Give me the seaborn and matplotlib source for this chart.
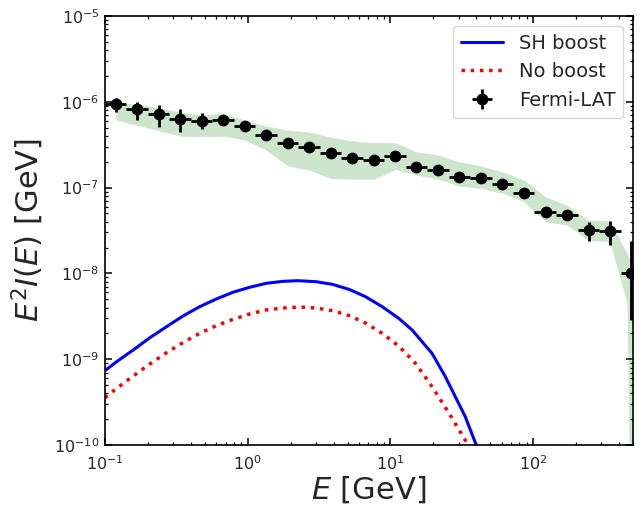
import numpy as np
import pandas as pd
import matplotlib
matplotlib.use("Agg")
import matplotlib.pyplot as plt
import seaborn as sns

# ---- Fermi-LAT data (bin centres, bin edges, values, errors) ----
E_data = [0.119, 0.168, 0.238, 0.336, 0.476, 0.673, 0.951, 1.35, 1.90, 2.69,
          3.81, 5.38, 7.61, 10.8, 15.2, 21.5, 30.4, 43.1, 60.9, 86.1,
          122.0, 172.0, 244.0, 344.0, 487.0]
E_lo = [0.1, 0.141, 0.2, 0.283, 0.4, 0.566, 0.8, 1.13, 1.6, 2.26,
        3.2, 4.53, 6.4, 9.05, 12.8, 18.1, 25.6, 36.2, 51.2, 72.4,
        102.0, 145.0, 205.0, 290.0, 410.0]
E_hi = [0.141, 0.2, 0.283, 0.4, 0.566, 0.8, 1.13, 1.6, 2.26, 3.2,
        4.53, 6.4, 9.05, 12.8, 18.1, 25.6, 36.2, 51.2, 72.4, 102.0,
        145.0, 205.0, 290.0, 410.0, 579.0]
flux = [9.35e-7, 8.18e-7, 7.15e-7, 6.3e-7, 6.02e-7, 6.18e-7, 5.22e-7, 4.10e-7,
        3.28e-7, 3.0e-7, 2.51e-7, 2.19e-7, 2.10e-7, 2.33e-7, 1.75e-7, 1.60e-7,
        1.32e-7, 1.28e-7, 1.09e-7, 8.72e-8, 5.24e-8, 4.80e-8, 3.21e-8, 3.12e-8,
        1.0e-8]
flux_err_hi = [1.7e-7, 1.8e-7, 2.0e-7, 1.9e-7, 1.45e-7, 0.8e-7, 3.0e-8, 2.5e-8,
               2.0e-8, 1.8e-8, 1.5e-8, 1.3e-8, 1.3e-8, 1.5e-8, 1.1e-8, 1.0e-8,
               8.0e-9, 8.0e-9, 7.0e-9, 6.0e-9, 6.0e-9, 6.0e-9, 8.0e-9, 1.0e-8,
               1.4e-8]
flux_err_lo = [1.75e-7, 2.0e-7, 2.0e-7, 1.8e-7, 1.2e-7, 0.7e-7, 3.0e-8, 2.5e-8,
               2.0e-8, 1.8e-8, 1.5e-8, 1.3e-8, 1.3e-8, 1.5e-8, 1.1e-8, 1.0e-8,
               8.0e-9, 8.0e-9, 7.0e-9, 6.0e-9, 6.0e-9, 6.0e-9, 8.0e-9, 1.0e-8,
               7.1e-9]

# ---- systematic band ----
band_E = [0.119, 0.168, 0.238, 0.336, 0.476, 0.673, 0.951, 1.35, 1.90, 2.69,
          3.81, 5.38, 7.61, 10.8, 15.2, 21.5, 30.4, 43.1, 60.9, 86.1,
          122.0, 172.0, 244.0, 344.0, 455.0, 487.0]
band_hi = [9.68e-7, 9.43e-7, 8.47e-7, 7.60e-7, 7.02e-7, 7.34e-7, 6.14e-7, 5.22e-7,
           4.69e-7, 4.45e-7, 3.89e-7, 3.49e-7, 3.35e-7, 3.34e-7, 2.62e-7, 2.40e-7,
           2.00e-7, 1.79e-7, 1.53e-7, 1.23e-7, 7.83e-8, 6.27e-8, 4.19e-8, 4.11e-8,
           1.7e-8, 1.3e-8]
band_lo = [6.14e-7, 5.32e-7, 4.60e-7, 3.99e-7, 3.92e-7, 3.99e-7, 3.59e-7, 2.74e-7,
           1.79e-7, 1.60e-7, 1.28e-7, 1.25e-7, 1.25e-7, 1.63e-7, 1.40e-7, 1.26e-7,
           1.04e-7, 9.81e-8, 8.58e-8, 6.85e-8, 4.00e-8, 3.66e-8, 2.45e-8, 2.34e-8,
           4.5e-9, 1.0e-12]

# ---- model curves ----
E_sh = [0.100, 0.1206, 0.1576, 0.2061, 0.2694, 0.3521, 0.4601, 0.6015, 0.7862,
        1.028, 1.344, 1.756, 2.234, 3.000, 3.921, 5.125, 6.699, 8.758, 11.44,
        14.18, 19.55, 24.23, 33.41, 39.87, 50.0]
F_sh = [7.35e-10, 9.36e-10, 1.28e-9, 1.78e-9, 2.39e-9, 3.19e-9, 4.09e-9, 5.03e-9,
        6.02e-9, 6.88e-9, 7.66e-9, 8.08e-9, 8.23e-9, 8.01e-9, 7.46e-9, 6.52e-9,
        5.35e-9, 4.09e-9, 2.99e-9, 2.19e-9, 1.17e-9, 6.26e-10, 2.14e-10, 1.0e-10,
        2.0e-11]
E_nb = [0.100, 0.1206, 0.1576, 0.2061, 0.2694, 0.3521, 0.4601, 0.6015, 0.7862,
        1.028, 1.344, 1.756, 2.32, 3.000, 3.921, 5.125, 6.699, 8.758, 11.44,
        14.96, 19.55, 25.56, 33.41, 45.0]
F_nb = [3.56e-10, 4.57e-10, 6.37e-10, 8.79e-10, 1.19e-9, 1.56e-9, 2.00e-9, 2.46e-9,
        2.91e-9, 3.36e-9, 3.75e-9, 3.95e-9, 4.06e-9, 3.95e-9, 3.68e-9, 3.22e-9,
        2.64e-9, 2.00e-9, 1.42e-9, 8.95e-10, 4.79e-10, 2.38e-10, 1.14e-10, 2.0e-11]

sns.set_style("ticks")
plt.rcParams['font.family'] = ['DejaVu Sans']
plt.rcParams['mathtext.fontset'] = 'dejavusans'

fig = plt.figure(figsize=(6.41, 5.15), dpi=100)
ax = fig.add_axes([0.1638, 0.1359, 0.8237, 0.833])

ax.fill_between(band_E, band_lo, band_hi, color='green', alpha=0.2, lw=0)

df_sh = pd.DataFrame({'E': E_sh, 'F': F_sh})
df_nb = pd.DataFrame({'E': E_nb, 'F': F_nb})
sns.lineplot(data=df_sh, x='E', y='F', ax=ax, color='blue', lw=2.2,
             label='SH boost')
sns.lineplot(data=df_nb, x='E', y='F', ax=ax, color='red', lw=2.5,
             linestyle=':', label='No boost')

E_arr = np.array(E_data)
xerr = [E_arr - np.array(E_lo), np.array(E_hi) - E_arr]
yerr = [flux_err_lo, flux_err_hi]
ax.errorbar(E_data, flux, xerr=xerr, yerr=yerr, fmt='o', color='black',
            ms=7.5, elinewidth=2, capsize=0, label='Fermi-LAT', zorder=5)

ax.set_xscale('log')
ax.set_yscale('log')
ax.set_xlim(0.1, 500)
ax.set_ylim(1e-10, 1e-5)

ax.set_xlabel(r'$E$ [GeV]', fontsize=22, labelpad=1)
ax.set_ylabel(r'$E^2 I(E)$ [GeV]', fontsize=22, labelpad=6)
ax.tick_params(which='both', direction='in', top=True, right=True,
               labelsize=11.5, color='black')
ax.tick_params(which='major', length=5, width=1.1)
ax.tick_params(which='minor', length=2.2, width=0.9)
ax.tick_params(axis='x', which='major', pad=7)
ax.tick_params(axis='y', which='major', pad=4)
for s in ax.spines.values():
    s.set_color('black')
    s.set_linewidth(1.2)

ax.legend(loc='upper right', fontsize=14, frameon=True, framealpha=0.8,
          handlelength=2.2)

fig.savefig('out.png', dpi=100)
